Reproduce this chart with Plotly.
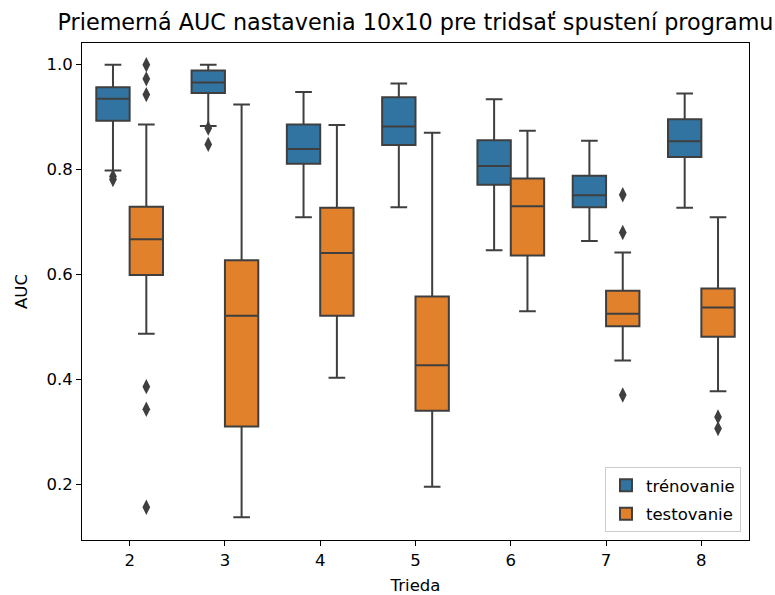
import plotly.graph_objects as go

categories = [2, 3, 4, 5, 6, 7, 8]

# trénovanie (training) box statistics
train_q1 = [0.893, 0.946, 0.811, 0.847, 0.771, 0.728, 0.824]
train_med = [0.935, 0.966, 0.839, 0.882, 0.807, 0.751, 0.854]
train_q3 = [0.957, 0.989, 0.886, 0.938, 0.856, 0.788, 0.896]
train_lo = [0.798, 0.883, 0.709, 0.728, 0.646, 0.664, 0.727]
train_hi = [1.000, 1.000, 0.948, 0.964, 0.934, 0.855, 0.945]
train_out_x = [2, 2, 3, 3]
train_out_y = [0.787, 0.781, 0.879, 0.848]

# testovanie (testing) box statistics
test_q1 = [0.599, 0.310, 0.521, 0.340, 0.636, 0.501, 0.481]
test_med = [0.667, 0.521, 0.641, 0.427, 0.730, 0.525, 0.537]
test_q3 = [0.729, 0.627, 0.727, 0.558, 0.783, 0.569, 0.573]
test_lo = [0.487, 0.137, 0.403, 0.195, 0.530, 0.436, 0.377]
test_hi = [0.886, 0.924, 0.885, 0.870, 0.874, 0.642, 0.709]
test_out_x = [2, 2, 2, 2, 2, 2, 7, 7, 7, 8, 8]
test_out_y = [1.0, 0.973, 0.943, 0.386, 0.343, 0.156, 0.752, 0.680, 0.370, 0.328, 0.306]

series_names = ["trénovanie", "testovanie"]
tick_labels = ["2", "3", "4", "5", "6", "7", "8"]

BLUE = "#3274a1"
ORANGE = "#e1812c"
GRAY = "#3f3f3f"
DODGE = 0.175
BOXW = 0.35
FONT = "DejaVu Sans"
TICK_SIZE = 16.5

fig = go.Figure()

def add_group(name, color, sign, q1, med, q3, lo, hi, ox, oy):
    xs = [c + sign * DODGE for c in categories]
    fig.add_trace(go.Box(
        x=xs, q1=q1, median=med, q3=q3, lowerfence=lo, upperfence=hi,
        name=name, fillcolor=color, width=BOXW, whiskerwidth=0.5,
        line=dict(color=GRAY, width=2), boxpoints=False,
        legendgroup=name, showlegend=True,
    ))
    fig.add_trace(go.Scatter(
        x=[c + sign * DODGE for c in ox], y=oy, mode="markers",
        marker=dict(symbol="diamond-tall", size=11, color=GRAY),
        legendgroup=name, showlegend=False, hoverinfo="y",
    ))

add_group(series_names[0], BLUE, -1, train_q1, train_med, train_q3, train_lo, train_hi, train_out_x, train_out_y)
add_group(series_names[1], ORANGE, 1, test_q1, test_med, test_q3, test_lo, test_hi, test_out_x, test_out_y)

fig.update_layout(
    width=775, height=595,
    margin=dict(l=82, r=26, t=43, b=55),
    plot_bgcolor="white", paper_bgcolor="white",
    boxmode="overlay",
    font=dict(family=FONT, color="black", size=TICK_SIZE),
    title=dict(text="Priemerná AUC nastavenia 10x10 pre tridsať spustení programu",
               x=(82 + 749) / 2 / 775, xanchor="center", y=1 - 22 / 595, yanchor="middle",
               font=dict(family=FONT, size=22.3, color="black")),
    legend=dict(x=0.988, y=0.016, xanchor="right", yanchor="bottom",
                bordercolor="#cccccc", borderwidth=1, bgcolor="rgba(255,255,255,0.8)",
                font=dict(family=FONT, size=TICK_SIZE), tracegroupgap=4),
    showlegend=True,
)

fig.update_xaxes(
    range=[1.5, 8.5], tickvals=categories, ticktext=tick_labels,
    showline=True, linecolor="black", linewidth=1, mirror=True,
    ticks="outside", ticklen=5, tickcolor="black", showgrid=False, zeroline=False,
    title=dict(text="Trieda", font=dict(family=FONT, size=TICK_SIZE), standoff=10),
    tickfont=dict(family=FONT, size=TICK_SIZE), automargin=False,
)
fig.update_yaxes(
    range=[0.0935, 1.0414], tickvals=[0.2, 0.4, 0.6, 0.8, 1.0],
    ticktext=["0.2", "0.4", "0.6", "0.8", "1.0"],
    showline=True, linecolor="black", linewidth=1, mirror=True,
    ticks="outside", ticklen=5, tickcolor="black", showgrid=False, zeroline=False,
    title=dict(text="AUC", font=dict(family=FONT, size=TICK_SIZE), standoff=14),
    tickfont=dict(family=FONT, size=TICK_SIZE), automargin=False,
)

fig.write_html("out.html")
